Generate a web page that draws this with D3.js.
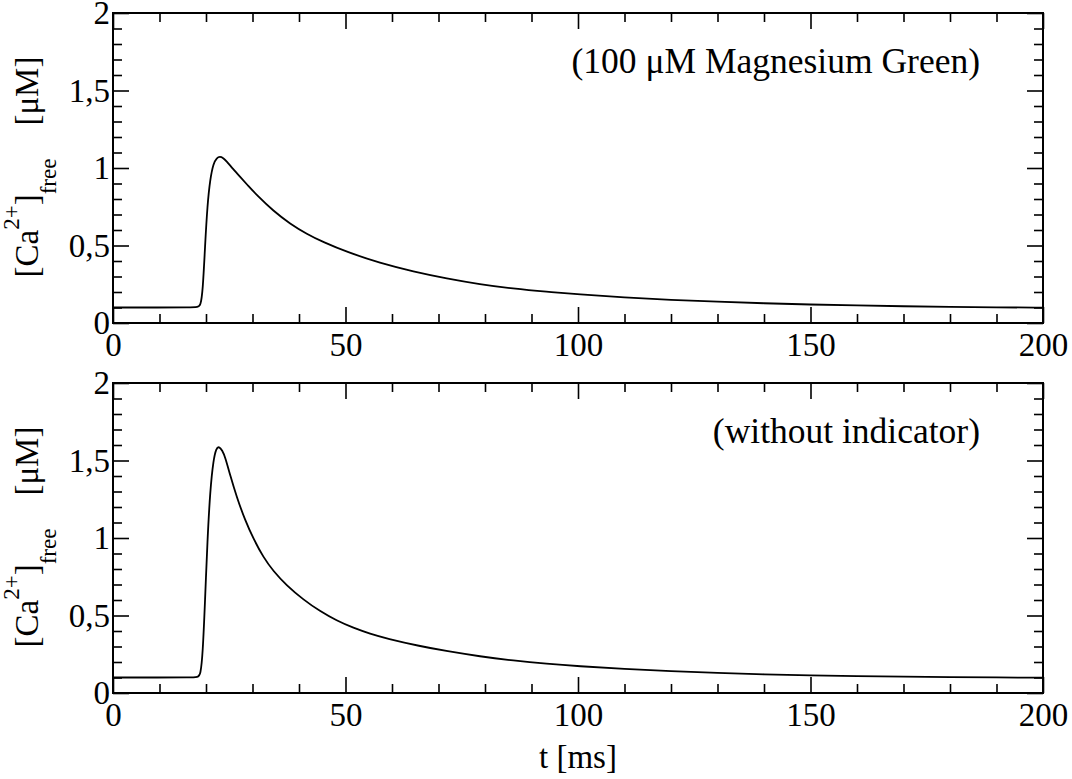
<!DOCTYPE html>
<html>
<head>
<meta charset="utf-8">
<script src="https://cdn.jsdelivr.net/npm/d3@7"></script>
<style>
  body { margin: 0; background: #fff; }
  text { font-family: "Liberation Serif", "Times New Roman", serif; fill: #000; }
</style>
</head>
<body>
<svg id="chart"></svg>
<script>
// time points [ms] and free calcium [uM]
const tIndicator = [0, 10, 16.6, 18.3, 18.8, 19.3, 19.8, 20.3, 20.9, 21.6, 22.3, 23.0, 23.7, 24.4, 25.8, 27.3, 29.1, 30.9, 34.5, 38.1, 41.7, 45.2, 50.3, 57.4, 64.6, 71.8, 78.9, 86, 93.3, 100, 110, 120, 130, 140, 150, 160, 170, 180, 190, 200];
const caIndicator = [0.1, 0.1, 0.1, 0.103, 0.11, 0.2, 0.5, 0.76, 0.93, 1.03, 1.065, 1.075, 1.065, 1.045, 0.994, 0.944, 0.884, 0.826, 0.722, 0.64, 0.574, 0.522, 0.458, 0.387, 0.332, 0.287, 0.25, 0.222, 0.201, 0.185, 0.165, 0.149, 0.137, 0.127, 0.119, 0.113, 0.108, 0.104, 0.101, 0.099];

const tNoIndicator = [0, 10, 16.6, 18.3, 18.8, 19.3, 19.8, 20.3, 20.9, 21.6, 22.2, 22.8, 23.5, 24.1, 25.2, 26.6, 28.4, 30.2, 32.3, 34.5, 37.3, 40.9, 44.5, 48.1, 51.7, 55.3, 58.9, 66, 71.8, 78.9, 86.1, 93.3, 100, 110, 120, 130, 140, 150, 160, 170, 180, 190, 200];
const caNoIndicator = [0.1, 0.1, 0.1, 0.103, 0.115, 0.25, 0.6, 0.98, 1.31, 1.505, 1.578, 1.592, 1.565, 1.525, 1.405, 1.265, 1.115, 0.995, 0.877, 0.785, 0.695, 0.603, 0.528, 0.467, 0.42, 0.382, 0.351, 0.302, 0.27, 0.236, 0.209, 0.188, 0.173, 0.155, 0.141, 0.129, 0.12, 0.114, 0.109, 0.105, 0.102, 0.1, 0.099];

const xMajor = [0, 50, 100, 150, 200];
const yMajor = [0, 0.5, 1, 1.5, 2];

const panels = [
  { t: tIndicator, ca: caIndicator, note: "(100 \u03bcM Magnesium Green)" },
  { t: tNoIndicator, ca: caNoIndicator, note: "(without indicator)" }
];

const width = 1072, height = 779;
const left = 113, right = 1043;
const panelTop = [13, 383];
const panelH = 310;

const svg = d3.select("#chart")
  .attr("width", width)
  .attr("height", height);

const x = d3.scaleLinear().domain([0, 200]).range([left, right]);

const xMinor = d3.range(0, 201, 10).filter(d => d % 50 !== 0);
const yMinor = d3.range(0, 21, 1).map(d => d / 10).filter(d => (d * 10) % 5 !== 0);

const fmtY = d => String(d).replace(".", ",");

panels.forEach(function (p, i) {
  const top = panelTop[i], bottom = top + panelH;
  const y = d3.scaleLinear().domain([0, 2]).range([bottom, top]);
  const g = svg.append("g");

  // major + minor ticks on all four sides, pointing inward
  function ticks(axis, pos, values, size, labels) {
    const a = g.append("g")
      .attr("transform", pos)
      .call(axis.tickValues(values).tickSize(size).tickSizeOuter(0)
        .tickPadding(labels ? labels.pad : 0)
        .tickFormat(labels ? labels.fmt : () => ""));
    a.select(".domain").remove();
    a.attr("font-family", null);
    a.selectAll("line").attr("stroke", "#000").attr("stroke-width", 1.6);
    a.selectAll("text").style("font-size", "33px").attr("fill", "#000");
    return a;
  }

  ticks(d3.axisBottom(x), `translate(0,${bottom})`, xMajor, -16, { pad: 10, fmt: d3.format("d") });
  ticks(d3.axisBottom(x), `translate(0,${bottom})`, xMinor, -9);
  ticks(d3.axisTop(x), `translate(0,${top})`, xMajor, -16);
  ticks(d3.axisTop(x), `translate(0,${top})`, xMinor, -9);
  ticks(d3.axisLeft(y), `translate(${left},0)`, yMajor, -16, { pad: 3, fmt: fmtY });
  ticks(d3.axisLeft(y), `translate(${left},0)`, yMinor, -9);
  ticks(d3.axisRight(y), `translate(${right},0)`, yMajor, -16);
  ticks(d3.axisRight(y), `translate(${right},0)`, yMinor, -9);

  // frame
  g.append("rect")
    .attr("x", left).attr("y", top)
    .attr("width", right - left).attr("height", panelH)
    .attr("fill", "none")
    .attr("stroke", "#000")
    .attr("stroke-width", 2);

  // trace
  const line = d3.line()
    .x((d, k) => x(p.t[k]))
    .y(d => y(d))
    .curve(d3.curveBasis);

  g.append("path")
    .datum(p.ca)
    .attr("d", line)
    .attr("fill", "none")
    .attr("stroke", "#000")
    .attr("stroke-width", 1.8);

  // annotation
  g.append("text")
    .attr("x", 980)
    .attr("y", top + 60)
    .attr("text-anchor", "end")
    .style("font-size", "35.5px")
    .text(p.note);

  // y label: [Ca2+]free   [uM]
  const yl = g.append("text")
    .attr("transform", `translate(38,${(top + bottom) / 2 - 1}) rotate(-90)`)
    .attr("text-anchor", "middle")
    .style("font-size", "33px");
  yl.append("tspan").text("[Ca");
  yl.append("tspan").attr("dy", -19).style("font-size", "23px").text("2+");
  yl.append("tspan").attr("dy", 19).text("]");
  yl.append("tspan").attr("dy", 18).style("font-size", "23px").text("free");
  yl.append("tspan").attr("dy", -18).text("\u00a0\u00a0\u00a0\u00a0[\u03bcM]");
});

// x axis title
svg.append("text")
  .attr("x", (left + right) / 2)
  .attr("y", 768)
  .attr("text-anchor", "middle")
  .style("font-size", "33px")
  .text("t [ms]");
</script>
</body>
</html>
